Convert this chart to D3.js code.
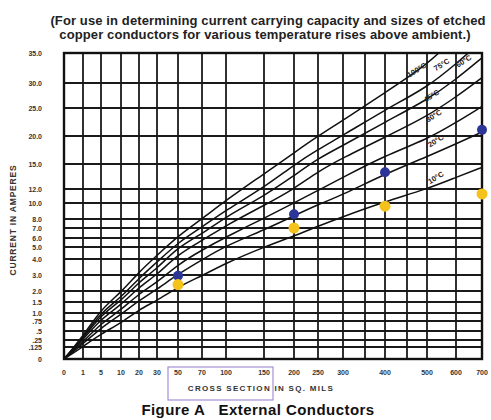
<!DOCTYPE html>
<html><head><meta charset="utf-8">
<script src="https://cdn.jsdelivr.net/npm/d3@7"></script>
<style>body{margin:0;background:#fff;} svg{display:block;} text{white-space:pre;}</style>
</head><body>
<script>
// ---------- data ----------
const xTicks = [0,1,5,10,20,30,50,70,100,150,200,250,300,400,500,600,700];
const xTickLabels = ["0","1","5","10","20","30","50","70","100","150","200","250","300","400","500","600","700"];
const xGrid = [0,1,5,10,20,30,50,70,100,150,200,250,300,350,400,450,500,600,700];
const yTicks = [0,0.125,0.25,0.5,0.75,1,1.5,2,3,4,5,6,7,8,10,12,15,20,25,30,35];
const yTickLabels = ["0",".125",".25",".5",".75","1.0","1.5","2.0","3.0","4.0","5.0","6.0","7.0","8.0","10.0","12.0","15.0","20.0","25.0","30.0","35.0"];
const curveX = [0,1,5,10,20,30,50,70,100,150,200,250,300,400,500,600,700];
const c10  = [0,0.13,0.42,0.70,1.16,1.56,2.26,2.95,3.75,5.0,6.2,7.2,8.3,10.2,12.0,13.4,14.6];
const c20  = [0,0.18,0.58,0.95,1.57,2.1,3.06,3.95,5.15,6.8,8.4,9.8,11.2,13.8,16.3,18.6,20.7];
const c30  = [0,0.21,0.69,1.14,1.88,2.53,3.66,4.75,6.1,8.1,10.0,11.8,13.4,16.5,19.4,22.4,25.3];
const c45  = [0,0.26,0.82,1.36,2.25,3.0,4.4,5.7,7.3,9.7,12.0,14.1,16.1,19.8,23.5,27.2,30.9];
const c60  = [0,0.29,0.94,1.55,2.56,3.4,5.0,6.4,8.3,11.0,13.6,16.0,18.3,22.5,26.6,30.6,34.2];
const c75  = [0,0.32,1.03,1.70,2.81,3.8,5.5,7.1,9.1,12.2,14.9,17.6,20.1,24.7,29.1,33.2,37.0];
const c100 = [0,0.36,1.17,1.93,3.19,4.3,6.2,8.0,10.4,13.8,17.0,20.0,22.8,28.1,33.0,37.7,42.0];
const curveNames = ["10°C","20°C","30°C","45°C","60°C","75°C","100°C"];
const labelX = [535,535,528,520,635,555,478];
const labelY = [13.1,18.75,23.2,27.0,33.3,32.7,31.8];
const blueX = [50,200,400,700];
const blueY = [2.95,8.6,14.0,21.1];
const yellowX = [50,200,400,700];
const yellowY = [2.4,7.0,9.6,11.3];

// ---------- layout ----------
const W = 491, H = 420;
const pL = 64, pT = 53, pR = 482, pB = 359;
// offsets (px) of each grid value along the chart's non-uniform axes
const xOff = [0,19,37,57,75,93,114,138,162,200,230,254,279,301,321,343,363,392,418];
const yOff = [306,294,287,278,268,260,249,238,222,206,194,185,175,166,150,136,111,83,55,30,0];
const x = d3.scaleLinear().domain(xGrid).range(xOff.map(o => pL + o));
const y = d3.scaleLinear().domain(yTicks).range(yOff.map(o => pT + o));
const yExt = d3.scaleLinear().domain([30,35]).range([y(30), y(35)]);
const yc = v => v > 35 ? yExt(v) : y(v);

const svg = d3.select("body").append("svg").attr("width", W).attr("height", H)
  .style("font-family", "'Liberation Sans', Arial, sans-serif");
svg.append("rect").attr("width", W).attr("height", H).attr("fill", "#fff");

// title
const title = svg.append("text").attr("text-anchor", "middle")
  .attr("font-weight", "bold").attr("font-size", 13).attr("letter-spacing", 0.12).attr("fill", "#222");
title.append("tspan").attr("x", 268).attr("y", 24.5).text("(For use in determining current carrying capacity and sizes of etched");
title.append("tspan").attr("x", 265).attr("y", 38.5).text("copper conductors for various temperature rises above ambient.)");

// grid
const g = svg.append("g");
g.selectAll("line.h").data(yTicks).join("line").attr("class","h")
  .attr("x1", pL).attr("x2", pR).attr("y1", d => y(d)).attr("y2", d => y(d))
  .attr("stroke", "#1a1a1a").attr("stroke-width", 1.8);
g.selectAll("line.v").data(xGrid).join("line").attr("class","v")
  .attr("y1", pT).attr("y2", pB).attr("x1", d => x(d)).attr("x2", d => x(d))
  .attr("stroke", "#1a1a1a").attr("stroke-width", 1.8);
g.append("rect").attr("x", pL).attr("y", pT).attr("width", pR-pL).attr("height", pB-pT)
  .attr("fill", "none").attr("stroke", "#111").attr("stroke-width", 2.4);

// curves
svg.append("clipPath").attr("id", "clip").append("rect")
  .attr("x", pL).attr("y", pT).attr("width", pR-pL).attr("height", pB-pT);
const series = [c10,c20,c30,c45,c60,c75,c100];
const line = d3.line().x(d => x(d[0])).y(d => yc(d[1])).curve(d3.curveBasis);
svg.append("g").attr("clip-path", "url(#clip)").selectAll("path").data(series).join("path")
  .attr("d", s => line(curveX.map((v,i) => [v, s[i]])))
  .attr("fill", "none").attr("stroke", "#111").attr("stroke-width", 1.5);

// curve labels
svg.append("g").selectAll("text").data(curveNames).join("text")
  .attr("transform", (d,i) => `translate(${x(labelX[i])},${y(labelY[i])}) rotate(-32)`)
  .attr("text-anchor", "middle").attr("font-size", 7.5).attr("font-weight", "bold").attr("fill", "#222")
  .text(d => d);

// dots
svg.append("g").selectAll("circle").data(blueX).join("circle")
  .attr("cx", d => x(d)).attr("cy", (d,i) => y(blueY[i])).attr("r", 5)
  .attr("fill", "#2a3597");
svg.append("g").selectAll("circle").data(yellowX).join("circle")
  .attr("cx", d => x(d)).attr("cy", (d,i) => y(yellowY[i])).attr("r", 5.5)
  .attr("fill", "#f5c21b");

// y tick labels
svg.append("g").selectAll("text").data(yTicks).join("text")
  .attr("x", 42).attr("y", d => y(d) + 2.5).attr("text-anchor", "end")
  .attr("font-size", 7).attr("font-weight", "bold").attr("fill", "#333")
  .text((d,i) => yTickLabels[i]);
// x tick labels
svg.append("g").selectAll("text").data(xTicks).join("text")
  .attr("x", d => x(d)).attr("y", 375).attr("text-anchor", "middle")
  .attr("font-size", 7).attr("font-weight", "bold").attr("fill", "#333")
  .text((d,i) => xTickLabels[i]);

// axis titles
svg.append("text").attr("transform", "translate(16,220) rotate(-90)")
  .attr("text-anchor", "middle").attr("font-size", 8.5).attr("letter-spacing", 0.8)
  .attr("font-weight", "bold").attr("fill", "#333")
  .text("CURRENT IN AMPERES");
svg.append("rect").attr("x", 168).attr("y", 367).attr("width", 105).attr("height", 33)
  .attr("fill", "none").attr("stroke", "#a58fd6").attr("stroke-width", 1.2);
svg.append("text").attr("x", 261).attr("y", 391).attr("text-anchor", "middle")
  .attr("font-size", 8).attr("font-weight", "bold").attr("fill", "#333").attr("letter-spacing", 1.3)
  .text("CROSS SECTION IN SQ. MILS");
svg.append("text").attr("x", 258).attr("y", 415).attr("text-anchor", "middle")
  .attr("font-size", 15).attr("letter-spacing", 0.45).attr("font-weight", "bold").attr("fill", "#111")
  .text("Figure A   External Conductors");
</script>
</body></html>
